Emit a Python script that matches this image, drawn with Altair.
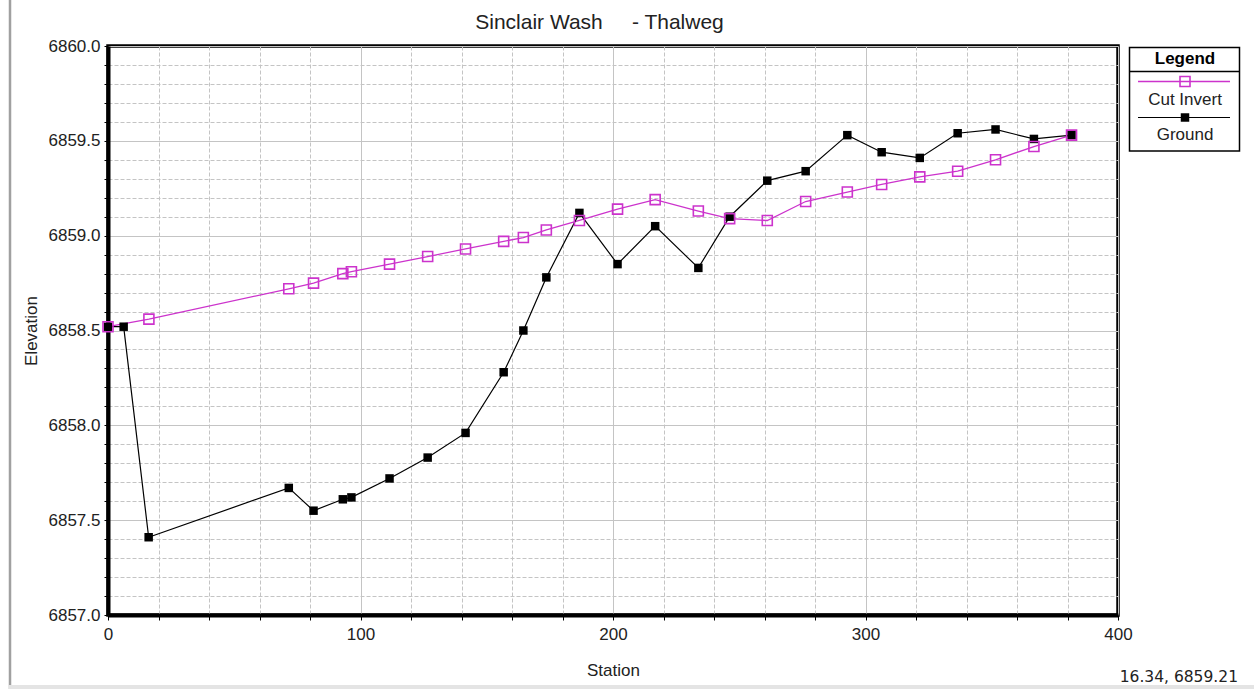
import altair as alt
import pandas as pd

# Thalweg profile along Sinclair Wash: station (ft) vs elevation (ft)
CUT_STATIONS = [0.0, 16.2, 71.6, 81.4, 93.0, 96.4, 111.5, 126.6, 141.6, 156.7, 164.5,
                173.6, 186.7, 201.8, 216.7, 233.8, 246.2, 261.1, 276.3, 292.8, 306.4,
                321.5, 336.5, 351.5, 366.7, 381.6]
CUT_INVERT = [6858.52, 6858.56, 6858.72, 6858.75, 6858.80, 6858.81, 6858.85, 6858.89,
              6858.93, 6858.97, 6858.99, 6859.03, 6859.08, 6859.14, 6859.19, 6859.13,
              6859.09, 6859.08, 6859.18, 6859.23, 6859.27, 6859.31, 6859.34, 6859.40,
              6859.47, 6859.53]

GROUND_STATIONS = [0.0, 6.2, 16.1, 71.6, 81.4, 93.0, 96.4, 111.5, 126.6, 141.6, 156.7,
                   164.5, 173.6, 186.7, 201.8, 216.7, 233.8, 246.2, 261.1, 276.3, 292.8,
                   306.4, 321.5, 336.5, 351.5, 366.7, 381.6]
GROUND = [6858.52, 6858.52, 6857.41, 6857.67, 6857.55, 6857.61, 6857.62, 6857.72,
          6857.83, 6857.96, 6858.28, 6858.50, 6858.78, 6859.12, 6858.85, 6859.05,
          6858.83, 6859.10, 6859.29, 6859.34, 6859.53, 6859.44, 6859.41, 6859.54,
          6859.56, 6859.51, 6859.53]

X_TICKS = [0, 20, 40, 60, 80, 100, 120, 140, 160, 180, 200, 220, 240, 260, 280, 300,
           320, 340, 360, 380, 400]
Y_TICKS = [round(6857.0 + i * 0.1, 1) for i in range(31)]

TITLE = "Sinclair Wash\u00a0\u00a0\u00a0\u00a0\u00a0- Thalweg"
LEGEND_TITLE = "Legend"
SERIES_NAMES = ["Cut Invert", "Ground"]
CURSOR_TEXT = "16.34, 6859.21"

MAGENTA = "#CC33CC"
FONT = "Liberation Sans"
TEXT = "#222222"
W, H = 1010, 569

cut_df = pd.DataFrame({"Station": CUT_STATIONS, "Elevation": CUT_INVERT})
ground_df = pd.DataFrame({"Station": GROUND_STATIONS, "Elevation": GROUND})

major_x = "datum.value % 100 == 0"
major_y = "abs(datum.value * 2 - round(datum.value * 2)) < 0.01"

x_enc = alt.X(
    "Station:Q",
    scale=alt.Scale(domain=[0, 400], nice=False, zero=False),
    axis=alt.Axis(
        values=X_TICKS, labelExpr=f"{major_x} ? datum.label : ''", labelOverlap=False,
        labelFlush=False,
        grid=True, gridColor="#c4c4c4", gridWidth=1,
        gridDash={"condition": {"test": major_x, "value": []}, "value": [4, 2]},
        tickSize=5, tickColor="black", tickWidth=1,
        domainColor="black", domainWidth=4,
        labelFont=FONT, labelFontSize=17, labelColor=TEXT, labelPadding=6,
        title="Station", titleFont=FONT, titleFontSize=17, titleFontWeight="normal",
        titleColor=TEXT, titleX=W / 2, titleY=55, titleBaseline="middle",
    ),
)
y_enc = alt.Y(
    "Elevation:Q",
    scale=alt.Scale(domain=[6857, 6860], nice=False, zero=False),
    axis=alt.Axis(
        values=Y_TICKS, labelExpr=f"{major_y} ? format(datum.value, '.1f') : ''",
        labelOverlap=False, labelFlush=False,
        grid=True, gridColor="#c4c4c4", gridWidth=1,
        gridDash={"condition": {"test": major_y, "value": []}, "value": [4, 2]},
        tickSize=4, tickColor="black", tickWidth=1,
        domainColor="black", domainWidth=4,
        labelFont=FONT, labelFontSize=17, labelColor=TEXT, labelPadding=4,
        title="Elevation", titleFont=FONT, titleFontSize=17, titleFontWeight="normal",
        titleColor=TEXT, titleX=-77, titleY=H / 2, titleBaseline="middle",
    ),
)

cut_line = alt.Chart(cut_df).mark_line(color=MAGENTA, strokeWidth=1.3).encode(x=x_enc, y=y_enc)
cut_pts = alt.Chart(cut_df).mark_point(
    shape="square", filled=False, color=MAGENTA, size=100, strokeWidth=1.6, opacity=1
).encode(x=x_enc, y=y_enc)
ground_line = alt.Chart(ground_df).mark_line(color="black", strokeWidth=1.2).encode(x=x_enc, y=y_enc)
ground_pts = alt.Chart(ground_df).mark_point(
    shape="square", filled=True, color="black", size=72, opacity=1
).encode(x=x_enc, y=y_enc)

one = alt.Data(values=[{}])

# Chart heading, centred over the plot
heading = alt.Chart(one).mark_text(
    text=TITLE, font=FONT, fontSize=21, color=TEXT, align="center", baseline="alphabetic"
).encode(x=alt.value(491.5), y=alt.value(-17))

# Window frame around the chart panel
frame_left = alt.Chart(one).mark_rule(color="#a0a0a0", strokeWidth=2.5).encode(
    x=alt.value(-98), y=alt.value(-46), y2=alt.value(H + 74)
)
frame_bottom = alt.Chart(one).mark_rule(color="#e4e4e4", strokeWidth=4).encode(
    x=alt.value(-99), x2=alt.value(W + 136), y=alt.value(H + 72)
)

# Boxed legend to the right of the plot
lx0, lx1, lcx = 1021.5, 1131.5, 1077
legend_box = alt.Chart(one).mark_rect(fill="white", stroke="black", strokeWidth=1.5).encode(
    x=alt.value(lx0), x2=alt.value(lx1), y=alt.value(1.5), y2=alt.value(105)
)
legend_sep = alt.Chart(one).mark_rule(color="black", strokeWidth=1.5).encode(
    x=alt.value(lx0), x2=alt.value(lx1), y=alt.value(25.5)
)
legend_head = alt.Chart(one).mark_text(
    text=LEGEND_TITLE, font=FONT, fontSize=17, fontWeight="bold", color="black",
    align="center", baseline="middle"
).encode(x=alt.value(lcx), y=alt.value(13))
leg_cut_line = alt.Chart(one).mark_rule(color=MAGENTA, strokeWidth=1.3).encode(
    x=alt.value(1030), x2=alt.value(1122), y=alt.value(35.5)
)
leg_cut_pt = alt.Chart(one).mark_point(
    shape="square", filled=False, color=MAGENTA, size=100, strokeWidth=1.6, opacity=1
).encode(x=alt.value(lcx), y=alt.value(35.5))
leg_cut_txt = alt.Chart(one).mark_text(
    text=SERIES_NAMES[0], font=FONT, fontSize=17, color=TEXT, align="center", baseline="middle"
).encode(x=alt.value(lcx), y=alt.value(54))
leg_gr_line = alt.Chart(one).mark_rule(color="black", strokeWidth=1.2).encode(
    x=alt.value(1030), x2=alt.value(1122), y=alt.value(71.5)
)
leg_gr_pt = alt.Chart(one).mark_point(
    shape="square", filled=True, color="black", size=72, opacity=1
).encode(x=alt.value(lcx), y=alt.value(71.5))
leg_gr_txt = alt.Chart(one).mark_text(
    text=SERIES_NAMES[1], font=FONT, fontSize=17, color=TEXT, align="center", baseline="middle"
).encode(x=alt.value(lcx), y=alt.value(89))

# Cursor position readout, bottom right
cursor = alt.Chart(one).mark_text(
    text=CURSOR_TEXT, font="DejaVu Sans", fontSize=15.5, color=TEXT,
    align="right", baseline="middle"
).encode(x=alt.value(1130), y=alt.value(631))

chart = alt.layer(
    cut_line, ground_line, ground_pts, cut_pts,
    heading, frame_left, frame_bottom,
    legend_box, legend_sep, legend_head,
    leg_cut_line, leg_cut_pt, leg_cut_txt,
    leg_gr_line, leg_gr_pt, leg_gr_txt,
    cursor,
).properties(
    width=W,
    height=H,
    autosize=alt.AutoSizeParams(type="none"),
    padding={"left": 108, "top": 46, "right": 136, "bottom": 74},
    background="white",
).configure_view(stroke="black", strokeWidth=3.5)

chart.save("out.html", embed_options={"renderer": "svg", "actions": False})
